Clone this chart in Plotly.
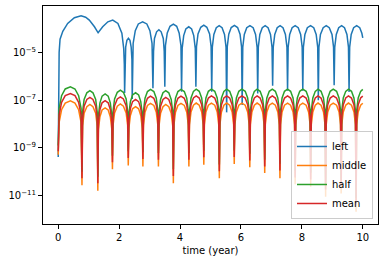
import plotly.graph_objects as go

# ---- data (x in years, y as log10 exponents) ----
t_left = [0, 0.015, 0.03, 0.06, 0.15, 0.31, 0.53, 0.75, 0.90, 1.02, 1.19, 1.31, 1.46, 1.63, 1.79, 1.96, 2.09, 2.15, 2.17, 2.18,
          2.19, 2.215, 2.255, 2.305, 2.355, 2.395, 2.42, 2.43,
          2.46, 2.53, 2.63, 2.77, 2.91, 3.01, 3.08, 3.11,
          3.13, 3.16, 3.23, 3.305, 3.38, 3.45, 3.48, 3.50,
          3.52, 3.58, 3.67, 3.78, 3.89, 3.97, 4.03, 4.05,
          4.07, 4.12, 4.19, 4.285, 4.38, 4.45, 4.50, 4.52,
          4.54, 4.59, 4.68, 4.78, 4.88, 4.97, 5.02, 5.04,
          5.06, 5.11, 5.19, 5.285, 5.38, 5.46, 5.51, 5.53,
          5.55, 5.60, 5.68, 5.785, 5.89, 5.97, 6.02, 6.04,
          6.06, 6.11, 6.19, 6.295, 6.40, 6.48, 6.53, 6.55,
          6.57, 6.62, 6.70, 6.795, 6.89, 6.97, 7.02, 7.04,
          7.06, 7.11, 7.19, 7.285, 7.38, 7.46, 7.51, 7.53,
          7.55, 7.60, 7.68, 7.78, 7.88, 7.96, 8.01, 8.03,
          8.05, 8.10, 8.18, 8.285, 8.39, 8.47, 8.52, 8.54,
          8.56, 8.61, 8.70, 8.80, 8.90, 8.99, 9.04, 9.06,
          9.08, 9.13, 9.21, 9.305, 9.40, 9.48, 9.53, 9.55,
          9.57, 9.62, 9.70, 9.80, 9.90, 9.97, 10.0]

left_exp = [-9.38, -5.6, -5.0, -4.45, -4.12, -3.79, -3.55, -3.47, -3.53, -3.65, -3.93, -4.18, -3.93, -3.72, -3.65, -3.79, -4.2, -4.83, -5.5, -6.7,
            -5.3, -4.78, -4.5, -4.41, -4.5, -4.78, -5.3, -6.95,
            -4.62, -4.09, -3.81, -3.72, -3.81, -4.09, -4.62, -6.5,
            -4.95, -4.42, -4.14, -4.05, -4.14, -4.42, -4.95, -6.44,
            -4.72, -4.19, -3.91, -3.82, -3.91, -4.19, -4.72, -6.65,
            -4.83, -4.30, -4.02, -3.93, -4.02, -4.30, -4.83, -6.44,
            -4.76, -4.23, -3.95, -3.86, -3.95, -4.23, -4.76, -6.65,
            -4.78, -4.25, -3.97, -3.88, -3.97, -4.25, -4.78, -7.51,
            -4.77, -4.24, -3.96, -3.87, -3.96, -4.24, -4.77, -7.2,
            -4.78, -4.25, -3.97, -3.88, -3.97, -4.25, -4.78, -6.72,
            -4.78, -4.25, -3.97, -3.88, -3.97, -4.25, -4.78, -6.4,
            -4.78, -4.25, -3.97, -3.88, -3.97, -4.25, -4.78, -6.6,
            -4.78, -4.25, -3.97, -3.88, -3.97, -4.25, -4.78, -6.6,
            -4.78, -4.25, -3.97, -3.88, -3.97, -4.25, -4.78, -7.0,
            -4.78, -4.25, -3.97, -3.88, -3.97, -4.25, -4.78, -6.37,
            -4.78, -4.25, -3.97, -3.88, -3.97, -4.25, -4.78, -6.66,
            -4.78, -4.25, -3.97, -3.88, -3.97, -4.20, -4.39]

t_low = [0, 0.03, 0.11, 0.23, 0.40, 0.55, 0.67, 0.75,
         0.78, 0.80, 0.85, 0.94, 1.04, 1.14, 1.23, 1.28,
         1.30, 1.32, 1.37, 1.44, 1.54, 1.64, 1.71, 1.76,
         1.78, 1.80, 1.85, 1.94, 2.04, 2.14, 2.23, 2.28,
         2.30, 2.32, 2.37, 2.44, 2.54, 2.64, 2.71, 2.76,
         2.78, 2.80, 2.85, 2.93, 3.03, 3.14, 3.22, 3.27,
         3.29, 3.31, 3.36, 3.44, 3.53, 3.63, 3.71, 3.76,
         3.78, 3.80, 3.85, 3.93, 4.03, 4.14, 4.22, 4.27,
         4.29, 4.31, 4.36, 4.44, 4.53, 4.63, 4.71, 4.76,
         4.78, 4.80, 4.85, 4.93, 5.03, 5.14, 5.22, 5.27,
         5.29, 5.31, 5.36, 5.44, 5.53, 5.63, 5.71, 5.76,
         5.78, 5.80, 5.85, 5.93, 6.03, 6.14, 6.22, 6.27,
         6.29, 6.31, 6.36, 6.44, 6.53, 6.63, 6.71, 6.76,
         6.78, 6.80, 6.85, 6.93, 7.03, 7.13, 7.21, 7.26,
         7.28, 7.30, 7.35, 7.43, 7.53, 7.63, 7.71, 7.76,
         7.78, 7.80, 7.85, 7.93, 8.03, 8.14, 8.22, 8.27,
         8.29, 8.31, 8.36, 8.44, 8.53, 8.63, 8.71, 8.76,
         8.78, 8.80, 8.85, 8.93, 9.03, 9.14, 9.22, 9.27,
         9.29, 9.31, 9.36, 9.44, 9.53, 9.63, 9.71, 9.76,
         9.78, 9.80, 9.85, 9.93, 10.0]

middle_exp = [-9.28, -7.93, -7.40, -7.12, -7.03, -7.12, -7.40, -7.93,
              -10.56, -8.08, -7.55, -7.27, -7.18, -7.27, -7.55, -8.08,
              -10.79, -8.22, -7.69, -7.41, -7.32, -7.41, -7.69, -8.22,
              -9.89, -8.06, -7.53, -7.25, -7.16, -7.25, -7.53, -8.06,
              -9.73, -8.17, -7.64, -7.36, -7.27, -7.36, -7.64, -8.17,
              -9.77, -8.03, -7.50, -7.22, -7.13, -7.22, -7.50, -8.03,
              -9.77, -8.08, -7.55, -7.27, -7.18, -7.27, -7.55, -8.08,
              -10.48, -8.03, -7.50, -7.22, -7.13, -7.22, -7.50, -8.03,
              -9.77, -8.02, -7.49, -7.21, -7.12, -7.21, -7.49, -8.02,
              -9.70, -8.02, -7.49, -7.21, -7.12, -7.21, -7.49, -8.02,
              -10.27, -8.02, -7.49, -7.21, -7.12, -7.21, -7.49, -8.02,
              -9.67, -8.02, -7.49, -7.21, -7.12, -7.21, -7.49, -8.02,
              -9.81, -8.02, -7.49, -7.21, -7.12, -7.21, -7.49, -8.02,
              -10.05, -8.02, -7.49, -7.21, -7.12, -7.21, -7.49, -8.02,
              -10.27, -8.02, -7.49, -7.21, -7.12, -7.21, -7.49, -8.02,
              -10.52, -8.02, -7.49, -7.21, -7.12, -7.21, -7.49, -8.02,
              -10.62, -8.02, -7.49, -7.21, -7.12, -7.21, -7.49, -8.02,
              -11.04, -8.02, -7.49, -7.21, -7.12, -7.21, -7.49, -8.02,
              -10.90, -8.02, -7.49, -7.21, -7.12, -7.21, -7.49, -8.02,
              -11.67, -8.02, -7.49, -7.21, -7.13]

half_exp = [-8.90, -7.34, -6.81, -6.53, -6.44, -6.53, -6.81, -7.34,
            -9.99, -7.50, -6.97, -6.69, -6.60, -6.69, -6.97, -7.50,
            -10.20, -7.64, -7.11, -6.83, -6.74, -6.83, -7.11, -7.64,
            -9.32, -7.48, -6.95, -6.67, -6.58, -6.67, -6.95, -7.48,
            -9.14, -7.59, -7.06, -6.78, -6.69, -6.78, -7.06, -7.59,
            -9.18, -7.45, -6.92, -6.64, -6.55, -6.64, -6.92, -7.45,
            -9.21, -7.50, -6.97, -6.69, -6.60, -6.69, -6.97, -7.50,
            -9.89, -7.45, -6.92, -6.64, -6.55, -6.64, -6.92, -7.45,
            -9.21, -7.44, -6.91, -6.63, -6.54, -6.63, -6.91, -7.44,
            -9.11, -7.44, -6.91, -6.63, -6.54, -6.63, -6.91, -7.44,
            -9.69, -7.44, -6.91, -6.63, -6.54, -6.63, -6.91, -7.44,
            -9.10, -7.44, -6.91, -6.63, -6.54, -6.63, -6.91, -7.44,
            -9.24, -7.44, -6.91, -6.63, -6.54, -6.63, -6.91, -7.44,
            -9.49, -7.44, -6.91, -6.63, -6.54, -6.63, -6.91, -7.44,
            -9.66, -7.44, -6.91, -6.63, -6.54, -6.63, -6.91, -7.44,
            -9.95, -7.44, -6.91, -6.63, -6.54, -6.63, -6.91, -7.44,
            -10.04, -7.44, -6.91, -6.63, -6.54, -6.63, -6.91, -7.44,
            -10.46, -7.44, -6.91, -6.63, -6.54, -6.63, -6.91, -7.44,
            -10.32, -7.44, -6.91, -6.63, -6.54, -6.63, -6.91, -7.44,
            -11.09, -7.44, -6.91, -6.63, -6.55]

mean_exp = [-9.14, -7.62, -7.09, -6.81, -6.72, -6.81, -7.09, -7.62,
            -10.27, -7.78, -7.25, -6.97, -6.88, -6.97, -7.25, -7.78,
            -10.48, -7.92, -7.39, -7.11, -7.02, -7.11, -7.39, -7.92,
            -9.60, -7.76, -7.23, -6.95, -6.86, -6.95, -7.23, -7.76,
            -9.42, -7.87, -7.34, -7.06, -6.97, -7.06, -7.34, -7.87,
            -9.46, -7.73, -7.20, -6.92, -6.83, -6.92, -7.20, -7.73,
            -9.49, -7.78, -7.25, -6.97, -6.88, -6.97, -7.25, -7.78,
            -10.17, -7.73, -7.20, -6.92, -6.83, -6.92, -7.20, -7.73,
            -9.49, -7.72, -7.19, -6.91, -6.82, -6.91, -7.19, -7.72,
            -9.39, -7.72, -7.19, -6.91, -6.82, -6.91, -7.19, -7.72,
            -9.97, -7.72, -7.19, -6.91, -6.82, -6.91, -7.19, -7.72,
            -9.38, -7.72, -7.19, -6.91, -6.82, -6.91, -7.19, -7.72,
            -9.52, -7.72, -7.19, -6.91, -6.82, -6.91, -7.19, -7.72,
            -9.77, -7.72, -7.19, -6.91, -6.82, -6.91, -7.19, -7.72,
            -9.94, -7.72, -7.19, -6.91, -6.82, -6.91, -7.19, -7.72,
            -10.23, -7.72, -7.19, -6.91, -6.82, -6.91, -7.19, -7.72,
            -10.32, -7.72, -7.19, -6.91, -6.82, -6.91, -7.19, -7.72,
            -10.74, -7.72, -7.19, -6.91, -6.82, -6.91, -7.19, -7.72,
            -10.60, -7.72, -7.19, -6.91, -6.82, -6.91, -7.19, -7.72,
            -11.37, -7.72, -7.19, -6.91, -6.83]

series_names = ["left", "middle", "half", "mean"]
series_colors = ["#1f77b4", "#ff7f0e", "#2ca02c", "#d62728"]
y_tick_vals = [1e-11, 1e-9, 1e-7, 1e-5]
y_tick_text = ["10<sup>\u221211</sup>", "10<sup>\u22129</sup>", "10<sup>\u22127</sup>", "10<sup>\u22125</sup>"]
x_tick_vals = [0, 2, 4, 6, 8, 10]

assert len(t_left) == len(left_exp)
for arr in (middle_exp, half_exp, mean_exp):
    assert len(arr) == len(t_low), (len(arr), len(t_low))

xs = [t_left, t_low, t_low, t_low]
ys = [[10 ** e for e in a] for a in (left_exp, middle_exp, half_exp, mean_exp)]

fig = go.Figure()
for name, color, x, y in zip(series_names, series_colors, xs, ys):
    fig.add_trace(go.Scatter(x=x, y=y, mode="lines", name=name,
                             line=dict(color=color, width=1.5)))

font = dict(family="DejaVu Sans", size=10, color="black")
fig.update_layout(
    width=385, height=262,
    margin=dict(l=43, r=7, t=6, b=38, autoexpand=False),
    paper_bgcolor="white", plot_bgcolor="white",
    font=font,
    showlegend=True,
    legend=dict(x=0.985, y=0.023, xanchor="right", yanchor="bottom",
                bgcolor="rgba(255,255,255,0.8)", bordercolor="#cccccc", borderwidth=1,
                font=dict(family="DejaVu Sans", size=10, color="black"),
                itemwidth=30, tracegroupgap=0),
)
fig.update_xaxes(range=[-0.5, 10.5], tickvals=x_tick_vals, ticks="outside", ticklen=4,
                 tickwidth=1, tickcolor="black", showline=True, linecolor="black", linewidth=1,
                 mirror=True, showgrid=False, zeroline=False, automargin=False,
                 title=dict(text="time (year)", font=font, standoff=4))
fig.update_yaxes(type="log", range=[-12.18, -3.06], tickvals=y_tick_vals, ticktext=y_tick_text,
                 ticks="outside", ticklen=4, tickwidth=1, tickcolor="black",
                 showline=True, linecolor="black", linewidth=1, mirror=True,
                 showgrid=False, zeroline=False, automargin=False)

fig.write_html("out.html",
               config={"displayModeBar": False},
               post_script="document.body.style.margin='0';document.body.style.padding='0';")
